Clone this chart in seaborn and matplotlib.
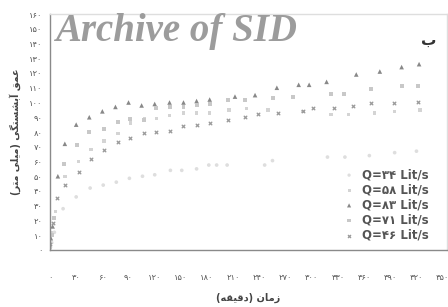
import matplotlib
matplotlib.use("Agg")
import matplotlib.pyplot as plt
import seaborn as sns

# scour depth vs time
t_34 = [0, 2, 5, 15, 30, 46, 61, 76, 91, 106, 120, 138, 151, 168, 182, 191, 203, 246, 255, 318, 338, 366, 395, 420]
d_34 = [1, 5, 12, 28, 36, 42, 44, 46, 48.6, 50, 51, 54, 54, 55, 57.6, 57.6, 57.6, 57.6, 60.6, 63, 63, 64, 66, 67]

t_58 = [0, 2, 6, 17, 33, 47, 62, 78, 92, 108, 122, 137, 153, 168, 183, 205, 225, 250, 290, 322, 342, 372, 395, 424]
d_58 = [2, 12, 26, 50, 60, 68, 74, 79, 86, 89, 89, 91, 93, 93, 93, 95, 96, 95, 94, 92, 92, 93, 94, 95]

t_83 = [0, 1, 3, 9, 17, 30, 45, 60, 75, 90, 105, 120, 137, 153, 168, 183, 212, 235, 260, 285, 297, 317, 351, 378, 403, 423]
d_83 = [3, 8, 16, 50, 72, 85, 90, 94, 97, 100, 98, 99, 100, 100, 101, 102, 104, 105, 110, 112, 112, 114, 119, 121, 124, 126]

t_71 = [0, 2, 5, 16, 31, 45, 62, 78, 92, 108, 122, 137, 153, 168, 183, 204, 223, 256, 279, 322, 337, 368, 403, 422]
d_71 = [2, 10, 22, 58, 71, 80, 82, 87, 89, 88, 96, 97, 97, 98, 99, 102, 102, 103, 104, 106, 106, 109, 111, 111]

t_46 = [0, 3, 8, 17, 33, 47, 62, 78, 92, 108, 122, 137, 153, 168, 183, 204, 223, 238, 261, 290, 301, 325, 347, 368, 394, 422]
d_46 = [4, 18, 35, 44, 53, 62, 68, 73, 76, 79, 80, 81, 84, 85, 86, 88, 90, 92, 93, 94.5, 96, 96.5, 97.6, 99.5, 100, 100.5]

labels = ["Q=۳۴ Lit/s", "Q=۵۸ Lit/s", "Q=۸۳ Lit/s", "Q=۷۱ Lit/s", "Q=۴۶ Lit/s"]
x_ticks = list(range(0, 451, 30))
y_ticks = list(range(0, 161, 10))
x_title = "زمان (دقیقه)"
y_title = "عمق آبشستگی (میلی متر)"

# matplotlib does no arabic shaping, so pick presentation forms by hand
FORMS = {
    "ع": (0xFEC9, 0xFECA, 0xFECB, 0xFECC), "م": (0xFEE1, 0xFEE2, 0xFEE3, 0xFEE4),
    "ق": (0xFED5, 0xFED6, 0xFED7, 0xFED8), "آ": (0xFE81, 0xFE82, None, None),
    "ب": (0xFE8F, 0xFE90, 0xFE91, 0xFE92), "ش": (0xFEB5, 0xFEB6, 0xFEB7, 0xFEB8),
    "س": (0xFEB1, 0xFEB2, 0xFEB3, 0xFEB4), "ت": (0xFE95, 0xFE96, 0xFE97, 0xFE98),
    "گ": (0xFB92, 0xFB93, 0xFB94, 0xFB95), "ی": (0xFBFC, 0xFBFD, 0xFBFE, 0xFBFF),
    "ل": (0xFEDD, 0xFEDE, 0xFEDF, 0xFEE0), "ر": (0xFEAD, 0xFEAE, None, None),
    "ز": (0xFEAF, 0xFEB0, None, None), "ا": (0xFE8D, 0xFE8E, None, None),
    "ن": (0xFEE5, 0xFEE6, 0xFEE7, 0xFEE8), "د": (0xFEA9, 0xFEAA, None, None),
    "ه": (0xFEE9, 0xFEEA, 0xFEEB, 0xFEEC),
}


def shape(text):
    out = []
    for i, ch in enumerate(text):
        if ch not in FORMS:
            out.append(ch)
            continue
        prev = text[i - 1] if i > 0 else ""
        nxt = text[i + 1] if i + 1 < len(text) else ""
        join_prev = prev in FORMS and FORMS[prev][2] is not None
        join_next = nxt in FORMS and FORMS[ch][2] is not None
        if join_prev and join_next:
            f = FORMS[ch][3]
        elif join_prev:
            f = FORMS[ch][1]
        elif join_next:
            f = FORMS[ch][2]
        else:
            f = FORMS[ch][0]
        out.append(chr(f))
    vis = "".join(reversed(out))
    return vis.translate(str.maketrans("()", ")("))


def fa(n):
    return str(n).translate(str.maketrans("0123456789", "۰۱۲۳۴۵۶۷۸۹"))


sns.set_style("white")
plt.rcParams["font.family"] = ["DejaVu Sans"]

fig = plt.figure(figsize=(4.48, 3.07), dpi=100)
ax = fig.add_axes([50 / 448, 57 / 307, 397 / 448, 236 / 307])

series = [
    (t_34, d_34, "o", "#dedede", 7),
    (t_58, d_58, "s", "#d4d4d4", 6),
    (t_83, d_83, "^", "#888888", 11),
    (t_71, d_71, "s", "#c8c8c8", 8),
    (t_46, d_46, "x", "#9a9a9a", 6),
]
for (t, d, m, c, s), lab in zip(series, labels):
    if m == "x":
        sns.scatterplot(x=t, y=d, marker=m, color=c, s=s, linewidth=0.9, label=lab, ax=ax)
    else:
        sns.scatterplot(x=t, y=d, marker=m, color=c, s=s, edgecolor="none", label=lab, ax=ax)

ax.set_xlim(0, 455)
ax.set_ylim(0, 160)
ax.set_xticks(x_ticks)
ax.set_xticklabels([fa(v) for v in x_ticks])
ax.set_yticks(y_ticks)
ax.set_yticklabels([fa(v) for v in y_ticks])
ax.tick_params(axis="both", direction="inout", length=5, width=0.8, color="#808080",
               labelsize=6, labelcolor="#555555")
ax.tick_params(axis="x", pad=14)
ax.tick_params(axis="y", pad=3)

for side in ["left", "bottom"]:
    ax.spines[side].set_color("#8a8a8a")
    ax.spines[side].set_linewidth(1)
for side in ["top", "right"]:
    ax.spines[side].set_color("#dedede")
    ax.spines[side].set_linewidth(1)

ax.set_xlabel(shape(x_title), fontsize=7, fontweight="bold", color="#444444", labelpad=8)
ax.set_ylabel(shape(y_title), fontsize=7, fontweight="bold", color="#444444", labelpad=6)

handles, labs = ax.get_legend_handles_labels()
ax.legend(handles, labs, loc="lower right", bbox_to_anchor=(0.975, 0.0), frameon=False,
          handletextpad=0.1, labelspacing=0.18, borderaxespad=0.3, markerscale=0.9,
          prop={"weight": "bold", "size": 8.5})
for txt in ax.get_legend().get_texts():
    txt.set_color("#555555")

ax.text(0.955, 0.89, "ب", transform=ax.transAxes, fontsize=11, fontweight="bold",
        color="#333333", ha="center", va="center")

fig.text(55 / 448, 1 - 31 / 307, "Archive of SID", family="Liberation Serif", style="italic",
         weight="bold", size=28, color="#9c9c9c", va="center", ha="left")

fig.savefig("out.png", dpi=100)
